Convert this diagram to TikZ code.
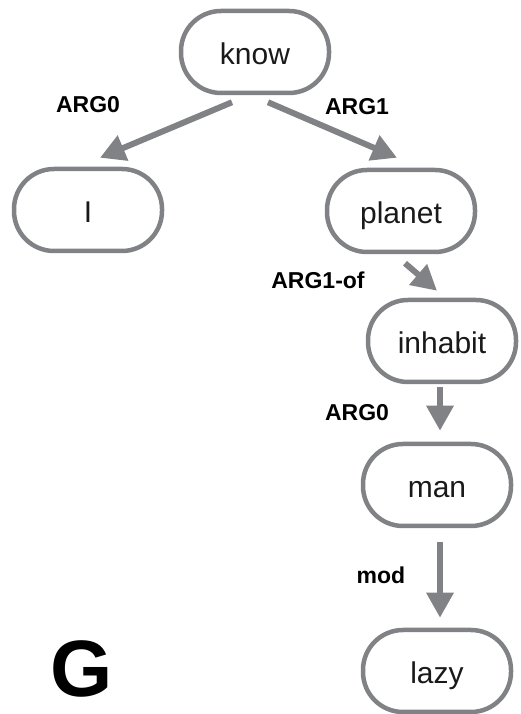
\documentclass[tikz,border=0pt]{standalone}
\usepackage{fontspec}
\setmainfont{Liberation Sans}
\usepackage{tikz}
\usetikzlibrary{arrows.meta, calc}
\definecolor{edgegray}{RGB}{128, 130, 133}
\definecolor{textdark}{RGB}{25, 25, 25}

\begin{document}
\begin{tikzpicture}[x=1pt, y=1pt, >={Triangle[length=25pt, width=26pt]},
   c/.style={draw=edgegray, line width=4.5pt, rounded corners=40pt, minimum width=148pt, minimum height=82pt,
     inner sep=0pt, text height=25pt, text depth=0pt, text=textdark, font=\fontsize{30}{30}\selectfont},
   r/.style={->, draw=edgegray, line width=6pt},
   l/.style={font=\bfseries\fontsize{23}{23}\selectfont}]
  \useasboundingbox (0,0) rectangle (520,714);
  \node[c] (know) at (255,662) {know};
  \node[c] (i) at (88,504) {I}; \node[c] (planet) at (401,503) {planet};
  \node[c] (inhabit) at (442,373) {inhabit};
  \node[c] (man) at (437,229) {man}; \node[c] (lazy) at (437,43) {lazy};
  \draw[r] ($(know.south)+(-23,-7)$) -- ($(i.north)+(12,9)$);
  \draw[r] ($(know.south)+(13,-7)$) -- ($(planet.north)+(-4,10)$);
  \draw[r] ($(planet.south)+(4,-9)$) -- ($(inhabit.north)+(-5,7)$);
  \draw[r] ($(inhabit.south)+(-2,-3)$) -- ($(man.north)+(3,11)$);
  \draw[r] ($(man.south)+(3,-14)$) -- ($(lazy.north)+(3,10)$);
  \node[l] (a0) at (88,609) {ARG0}; \node[l] (a1) at (357,607) {ARG1};
  \node[l] (a1of) at (318,434) {ARG1-of};
  \node[l] (a0b) at (357,301) {ARG0}; \node[l] (md) at (381,139) {mod};
  \node[font=\bfseries\fontsize{80}{80}\selectfont] (g) at (82,45) {G};
\end{tikzpicture}
\end{document}
